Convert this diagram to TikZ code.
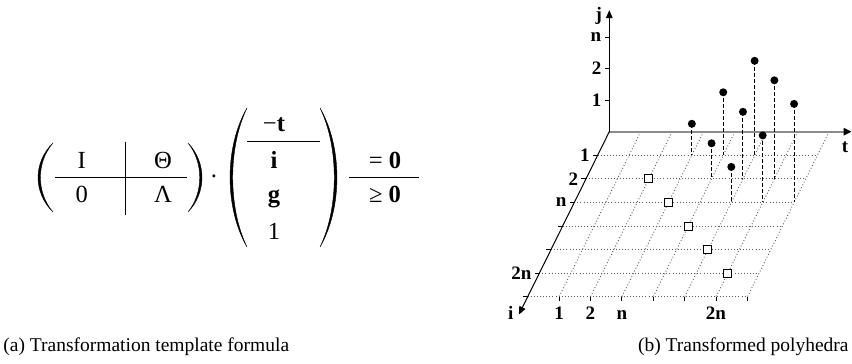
\documentclass[tikz,border=0pt]{standalone}
\usepackage{fontspec}
\setmainfont{Liberation Serif}
\usepackage{tikz}
\usetikzlibrary{
  arrows.meta,
  positioning,
  calc
}
\definecolor{phGrid}{HTML}{5A5A5A}
\definecolor{phAxis}{HTML}{8C8C8C}
% bulge x, centre y, signed width, height
\newcommand{\fence}[4]{%
  \filldraw[line width=0.2pt, shift={(#1,#2)}, xscale=#3, yscale=#4]
    (1,0.5) .. controls (-0.33,0.22) and (-0.33,-0.22) .. (1,-0.5)
    .. controls (-0.12,-0.22) and (-0.12,0.22) .. (1,0.5) -- cycle;
}
\tikzset{
  fterm/.style={font=\fontsize{12.3}{14}\selectfont, inner sep=0pt, anchor=base},
  frule/.style={line width=0.5pt},
  gridline/.style={phGrid, line width=0.45pt, dash pattern=on 0.45pt off 1.1pt},
  axisline/.style={line width=0.5pt, -{Triangle[length=4pt, width=3.3pt]}},
  taxisline/.style={phAxis, line width=1pt, -{Triangle[length=4pt, width=3.6pt, color=black]}},
  tickmark/.style={line width=0.5pt},
  lbl/.style={font=\fontsize{9.5}{11}\selectfont\bfseries, inner sep=1.5pt},
  proj/.style={line width=0.5pt, dash pattern=on 2pt off 1pt},
  srcpt/.style={circle, fill=black, inner sep=0pt, minimum size=4pt},
  dstpt/.style={draw, fill=white, inner sep=0pt, minimum size=4pt, line width=0.5pt},
  captext/.style={font=\fontsize{9.75}{12}\selectfont, inner sep=0pt}
}

\begin{document}
\begin{tikzpicture}[x=0.5pt, y=0.5pt]
  \useasboundingbox (0,0) rectangle (852,364);

  % (a) template formula
  \fence{38}{186.5}{15}{69}
  \fence{202}{186.5}{-14}{69}
  \node[fterm] (mI) at (81.7,195.7) {I};
  \node[fterm] (mTheta) at (163,195.7) {Θ};
  \node[fterm] (mZero) at (81.7,161) {0};
  \node[fterm] (mLambda) at (163,161) {Λ};
  \draw[frule] (55,186) -- (187,186);
  \draw[frule] (125,222.3) -- (125,149);
  \node[fterm] (cdot) at (214,179) {·};
  \fence{230}{186.5}{17}{139}
  \fence{337}{186.5}{-17}{139}
  \node[fterm] (vT) at (274,232.5) {−\textbf{t}};
  \node[fterm] (vI) at (274,195.7) {\textbf{i}};
  \node[fterm] (vG) at (274,161) {\textbf{g}};
  \node[fterm] (vOne) at (274,124.5) {1};
  \draw[frule] (247,222.3) -- (320,222.3);
  \node[fterm] (eqZero) at (385,195.7) {= \textbf{0}};
  \node[fterm] (geZero) at (385,161) {≥ \textbf{0}};
  \draw[frule] (349,186) -- (419,186);

  % (b) polyhedra, axes t (x), j (y), i (z)
  \begin{scope}[shift={(609.3,232.3)}, x={(15.7pt,0pt)}, y={(0pt,15.75pt)}, z={(-5.835pt,-11.8pt)}]
    \foreach \k in {1,...,7} {
      \draw[gridline] (0,0,\k) -- (7,0,\k);
      \draw[gridline] (\k,0,0) -- (\k,0,7);
    }
    \coordinate (O) at (0,0,0);
    \coordinate (tEnd) at (7.72,0,0);
    \coordinate (jEnd) at (0,3.86,0);
    \coordinate (iEnd) at (0,0,7.75);
    \draw[taxisline] (O) -- (tEnd);
    \draw[axisline] (O) -- (jEnd);
    \draw[axisline] (O) -- (iEnd);

    \foreach \v/\txt in {1/1,2/2,3/n}
      \draw[tickmark] (0,\v,0) -- ++(-2.25pt,0pt) node[lbl, anchor=east] (jl\v) {\txt};
    \foreach \v in {1,...,7} {
      \draw[tickmark] (0,0,\v) -- ++(-2.25pt,0pt);
      \draw[tickmark] (\v,0,7) -- ++(0pt,-2pt);
    }
    \foreach \v/\txt in {1/1,2/2,3/n,6/2n} {
      \node[lbl, anchor=east, xshift=-2.25pt] (il\v) at (0,0,\v) {\txt};
      \node[lbl, anchor=base, yshift=-11.5pt] (tl\v) at (\v,0,7) {\txt};
    }
    \node[lbl, anchor=east, xshift=-2pt] (jLab) at (0,3.67,0) {j};
    \node[lbl, anchor=east, xshift=-1pt, yshift=1pt] (iLab) at (iEnd) {i};
    \node[lbl, anchor=east, yshift=-8pt] (tLab) at (tEnd) {t};

    % points lifted a little where i > 1, as drawn
    \foreach \t/\i/\j [count=\n] in {3/1/1, 4/1/2, 5/1/3, 4/2/1.13, 5/2/2.13, 6/2/3.13, 5/3/1.13, 6/3/2.13, 7/3/3.13} {
      \coordinate (foot\n) at (\t,0,\i);
      \node[srcpt] (pt\n) at (\t,\j,\i) {};
      \draw[proj] (pt\n.center) -- (foot\n);
    }
    \foreach \k in {2,...,6}
      \node[dstpt] (sq\k) at (\k,0,\k) {};
  \end{scope}

  \node[captext, anchor=base west] (capA) at (3,12) {(a) Transformation template formula};
  \node[captext, anchor=base east] (capB) at (849,12) {(b) Transformed polyhedra};
\end{tikzpicture}
\end{document}
